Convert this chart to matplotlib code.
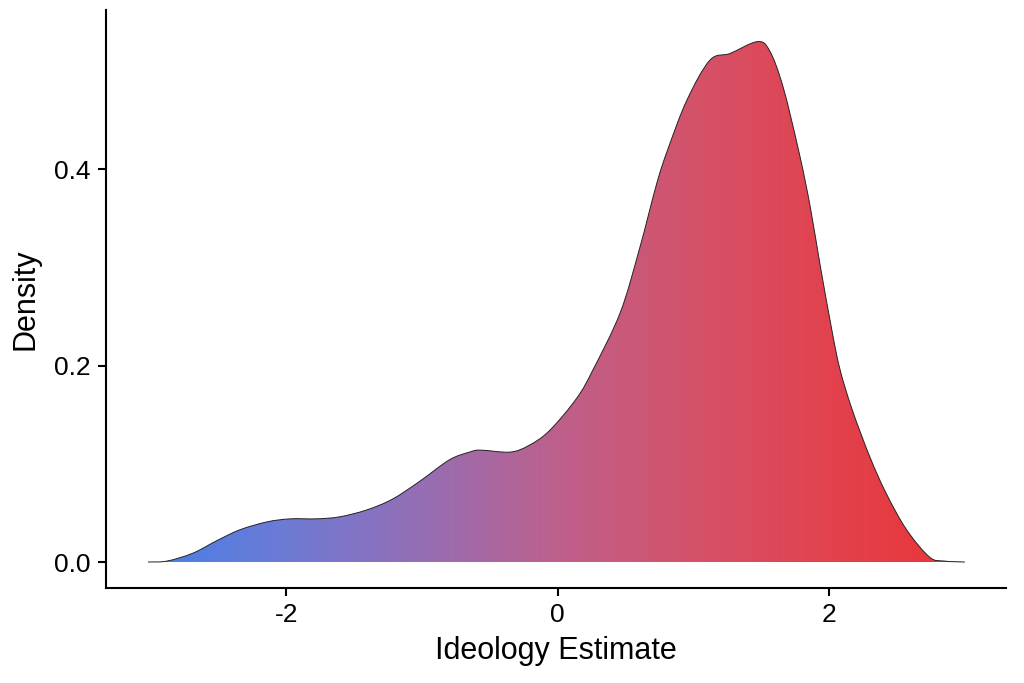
import numpy as np
import matplotlib
matplotlib.use("Agg")
import matplotlib.pyplot as plt
from matplotlib.colors import LinearSegmentedColormap
from matplotlib.patches import PathPatch
from matplotlib.path import Path

# Density curve
x_vals = [-3.02, -2.88, -2.69, -2.51, -2.34, -2.14, -1.97, -1.78, -1.61, -1.41,
          -1.22, -1.02, -0.80, -0.65, -0.57, -0.35, -0.21, -0.06, 0.14, 0.26,
          0.46, 0.60, 0.73, 0.81, 0.95, 1.12, 1.27, 1.47, 1.56, 1.66,
          1.78, 1.86, 1.93, 2.02, 2.08, 2.17, 2.30, 2.42, 2.57,
          2.74, 2.85, 3.0]
density = [0.0, 0.001, 0.009, 0.022, 0.033, 0.041, 0.044, 0.044, 0.046, 0.053,
           0.064, 0.082, 0.104, 0.112, 0.114, 0.112, 0.119, 0.134, 0.167, 0.196,
           0.254, 0.318, 0.386, 0.420, 0.470, 0.511, 0.518, 0.530, 0.521, 0.484,
           0.416, 0.362, 0.305, 0.236, 0.196, 0.155, 0.107, 0.070, 0.033,
           0.005, 0.001, 0.0]
x_ticks = [-2, 0, 2]
y_ticks = [0.0, 0.2, 0.4]
y_tick_labels = ["0.0", "0.2", "0.4"]

plt.rcParams['font.family'] = ['Liberation Sans', 'DejaVu Sans']

fig = plt.figure(figsize=(10.24, 6.83), dpi=100)
ax = fig.add_axes([0.1035, 0.139, 0.8785, 0.846])

xlo, xhi = -3.33, 3.30
ylo, yhi = -0.0265, 0.562


def smooth_path(xs, ys, close=False):
    """Bezier path through the points (cardinal spline tangents)."""
    p = np.column_stack([xs, ys]).astype(float)
    n = len(p)
    m = np.zeros_like(p)
    m[0] = p[1] - p[0]
    m[-1] = p[-1] - p[-2]
    m[1:-1] = (p[2:] - p[:-2]) / 2.0
    verts = [p[0]]
    codes = [Path.MOVETO]
    for i in range(n - 1):
        c1 = p[i] + m[i] / 3.0
        c2 = p[i + 1] - m[i + 1] / 3.0
        verts += [c1, c2, p[i + 1]]
        codes += [Path.CURVE4] * 3
    if close:
        verts += [p[0], p[0]]
        codes += [Path.LINETO, Path.CLOSEPOLY]
    return Path(np.array(verts), codes)


# gradient colormap (blue -> red across x)
anchor_cols = [(72, 128, 232), (110, 122, 212), (150, 110, 180), (190, 96, 140),
               (212, 82, 105), (226, 66, 78), (234, 52, 55)]
cmap = LinearSegmentedColormap.from_list(
    "grad", [(i / 6, tuple(c / 255 for c in col)) for i, col in enumerate(anchor_cols)])

grad = np.linspace(0, 1, 512).reshape(1, -1)
im = ax.imshow(grad, extent=[-3.0, 3.0, 0, 0.56], aspect='auto', cmap=cmap,
               origin='lower', zorder=1, interpolation='bilinear')
clip = PathPatch(smooth_path(x_vals, density, close=True), transform=ax.transData,
                 facecolor='none', edgecolor='none')
ax.add_patch(clip)
im.set_clip_path(clip)

outline = PathPatch(smooth_path(x_vals, density), transform=ax.transData,
                    facecolor='none', edgecolor='#222222', lw=0.7, zorder=3)
ax.add_patch(outline)

ax.set_xlim(xlo, xhi)
ax.set_ylim(ylo, yhi)
ax.set_xticks(x_ticks)
ax.set_xticklabels([str(t) for t in x_ticks])
ax.set_yticks(y_ticks)
ax.set_yticklabels(y_tick_labels)

for s in ['top', 'right']:
    ax.spines[s].set_visible(False)
for s in ['left', 'bottom']:
    ax.spines[s].set_linewidth(1.5)
    ax.spines[s].set_color('black')

ax.tick_params(axis='both', length=6, width=1.5, labelsize=19, colors='black',
               pad=5)
ax.set_xlabel("Ideology Estimate", fontsize=22, labelpad=6)
ax.set_ylabel("Density", fontsize=22, labelpad=10)

fig.savefig("out.png", dpi=100)
